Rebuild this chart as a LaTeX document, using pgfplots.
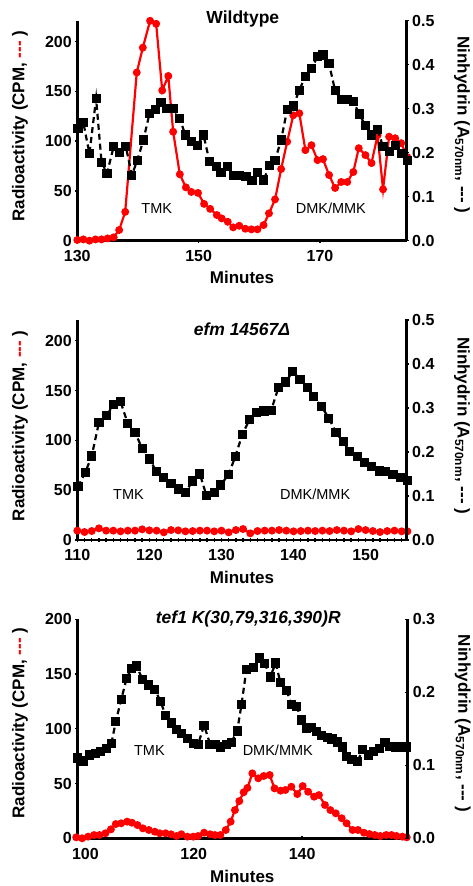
\documentclass[border=0pt]{standalone}
\usepackage{pgfplots}
\pgfplotsset{compat=1.18}
\usepackage{fontspec}
\setmainfont{Liberation Sans}
\newcommand{\tlf}{\fontsize{16}{18}\selectfont\bfseries}
\newcommand{\labf}{\fontsize{17}{20}\selectfont\bfseries}
\newcommand{\titf}{\fontsize{17.5}{20}\selectfont\bfseries}
\newcommand{\annf}{\fontsize{14.5}{17}\selectfont}
\pgfplotsset{
  common/.style={scale only axis, width=329.4pt, height=220pt, clip=false,
    tick align=outside, major tick length=4pt, minor tick length=3.5pt,
    every tick/.style={black, line width=1.4pt},
    tick label style={font=\tlf},
    /pgf/number format/assume math mode=true,
  },
  noarrows/.style={
    every outer x axis line/.append style={-},
    every outer y axis line/.append style={-},
    axis line style={-, line width=2.6pt},
  },
  leftax/.style={common, axis x line=bottom, axis y line=left, noarrows,
    ytick={0,50,100,150,200}, ymin=0,
    xticklabel style={yshift=-4pt},
    ylabel={Radioactivity (CPM, \textcolor{red}{-{}-{}-} )},
    ylabel style={font=\labf, anchor=center},
    xlabel={Minutes}, xlabel style={font=\labf, anchor=base, at={(axis description cs:0.5,0)}},
    title style={font=\titf, anchor=base},
  },
  rightax/.style={common, axis x line=none, axis y line=right, noarrows, ymin=0,
    yticklabel style={/pgf/number format/fixed, /pgf/number format/fixed zerofill, /pgf/number format/precision=1},
    ylabel={Ninhydrin (A\textsubscript{570nm}, -{}-{}- )},
    ylabel style={font=\labf, anchor=center, rotate=180},
  },
  redline/.style={red, line width=2.2pt, mark=*, mark size=2.8pt, mark options={solid}},
  blackline/.style={black, line width=2.2pt, dash pattern=on 6pt off 4pt, mark=square*, mark size=3.5pt, mark options={solid}},
}
\begin{document}
\begin{tikzpicture}[x=1pt,y=1pt]
\useasboundingbox (0,0) rectangle (472,886);
% ================= Panel 1 =================
\begin{axis}[leftax, at={(77.3pt,645.3pt)}, anchor=south west,
  xmin=130, xmax=184.3, ymax=221.1,
  xtick={130,150,170}, minor xtick={132,134,...,184},
  title={Wildtype}, title style={at={(axis description cs:0.5,1)}, yshift=-9.3pt, xshift=0.8pt},
  xlabel style={yshift=-42.6pt},
  ylabel style={at={(axis description cs:-0.174,0.521)}},
]
\addplot[redline] coordinates {
(130,0.7)(131,1.3)(132,0)(133,1.3)(134,1.3)(135,2.3)(136,3.4)(136.9,10.7)(137.9,29)
(139.8,169)(140.8,194)(142,221)(143,218)(144,151)(145,165.5)(145.8,109.5)(146.9,66.7)
(147.9,53.6)(148.8,49)(149.9,48)(150.9,37)(151.9,32)(153,25.8)(153.8,22.4)(154.8,19)
(155.7,13.4)(156.7,15)(157.7,12)(158.7,11.4)(159.7,11.4)(160.7,15.7)(161.6,27.5)
(162.6,41.5)(163.6,72)(164.6,99.5)(165.6,126)(166.6,128)(167.6,91)(168.6,96)(169.6,81)
(170.5,82)(171.5,66)(172.5,53)(173.5,59)(174.5,59)(175.5,69)(176.4,93)(177.5,86)
(178.5,78)(179.5,106)(180.4,51.6)(181.4,104.5)(182.4,103)(183.4,98)(184.4,84)
};
\node[font=\annf, anchor=base] at (axis cs:143.1,27.5) {TMK};
\node[font=\annf, anchor=base] at (axis cs:171.8,27.5) {DMK/MMK};
\end{axis}
\begin{axis}[rightax, at={(77.3pt,645.3pt)}, anchor=south west,
  xmin=130, xmax=184.3, ymax=0.5, ytick={0,0.1,...,0.5},
  ylabel style={at={(axis description cs:1.168,0.526)}},
]
\addplot[blackline] coordinates {
(130.1,0.255)(131.0,0.268)(132.0,0.198)(133.1,0.323)(134.0,0.178)(134.9,0.153)
(136.0,0.214)(137.0,0.200)(138.0,0.214)(139.0,0.149)(139.9,0.183)(140.9,0.229)
(141.9,0.289)(142.9,0.298)(143.8,0.314)(144.8,0.301)(145.8,0.301)(146.9,0.278)
(147.8,0.240)(148.8,0.225)(149.8,0.217)(150.8,0.240)(151.8,0.180)(152.9,0.168)
(153.7,0.155)(154.8,0.168)(155.8,0.149)(156.8,0.149)(157.8,0.145)(158.8,0.136)
(159.7,0.155)(160.7,0.138)(161.7,0.170)(162.6,0.183)(163.6,0.229)(164.6,0.298)
(165.6,0.306)(166.6,0.342)(167.6,0.374)(168.6,0.392)(169.6,0.418)(170.5,0.422)
(171.5,0.402)(172.5,0.341)(173.5,0.320)(174.5,0.320)(175.5,0.316)(176.5,0.288)
(177.5,0.261)(178.5,0.240)(179.5,0.252)(180.4,0.214)(181.4,0.202)(182.4,0.217)
(183.4,0.198)(184.4,0.183)
};
\end{axis}
% ================= Panel 2 =================
\begin{axis}[leftax, at={(77.3pt,346pt)}, anchor=south west,
  xmin=110, xmax=155.7, ymax=220.8,
  xtick={110,120,...,150}, minor xtick={111,...,155},
  title={\itshape efm 14567Δ}, title style={at={(axis description cs:0.5,1)}, yshift=-22pt},
  xlabel style={yshift=-43.3pt},
  ylabel style={at={(axis description cs:-0.174,0.519)}},
]
\addplot[redline] coordinates {
(110,9.4)(111,8)(112,9)(113,11.7)(114,9.4)(115,9.4)(116,8.7)(117,9.4)(118,9.4)(119,10.7)
(120,9.7)(121,9.4)(122,7.7)(123,10)(124,9.7)(125,8.7)(126,9)(127,9.4)(128,9.4)(129,8.7)
(130,9.4)(131,7.7)(132,10)(133,11)(134,6.7)(135,9)(136,9.4)(137,9.4)(138,10)(139,9.4)
(140,8.7)(141,9)(142,9.4)(143,9)(144,9.4)(145,9)(146,10)(147,9.4)(148,8.7)(149,11)
(150,10)(151,9)(152,8)(153,9)(154,9.4)(155,8.7)(155.8,8.7)
};
\node[font=\annf, anchor=base] at (axis cs:117.1,40.8) {TMK};
\node[font=\annf, anchor=base] at (axis cs:143.0,40.8) {DMK/MMK};
\end{axis}
\begin{axis}[rightax, at={(77.3pt,346pt)}, anchor=south west,
  xmin=110, xmax=155.7, ymax=0.5, ytick={0,0.1,...,0.5},
  ylabel style={at={(axis description cs:1.168,0.52)}},
]
\addplot[blackline] coordinates {
(110.1,0.121)(111.1,0.153)(112.0,0.191)(113.0,0.267)(114.1,0.283)(115.0,0.308)
(116.0,0.314)(117.0,0.265)(118.0,0.245)(119.0,0.208)(120.0,0.184)(121.0,0.155)
(122.0,0.142)(123.0,0.129)(124.0,0.116)(125.0,0.108)(126.0,0.134)(127.0,0.150)
(127.9,0.102)(129.0,0.108)(129.9,0.125)(131.0,0.149)(131.9,0.189)(132.9,0.240)
(133.9,0.274)(134.9,0.290)(135.9,0.293)(136.9,0.295)(137.9,0.346)(138.9,0.359)
(139.9,0.383)(140.9,0.365)(141.9,0.346)(142.8,0.326)(143.9,0.303)(144.9,0.277)
(145.9,0.244)(146.9,0.223)(147.8,0.201)(148.9,0.189)(149.8,0.177)(150.8,0.167)
(151.9,0.157)(152.8,0.155)(153.8,0.148)(154.8,0.142)(155.8,0.136)
};
\end{axis}
% ================= Panel 3 =================
\begin{axis}[leftax, at={(77.3pt,47.7pt)}, anchor=south west, height=219pt, width=330pt,
  xmin=98.5, xmax=159.4, ymax=200,
  xtick={100,120,140}, minor xtick={102,104,...,158},
  title={\itshape tef1 K(30,79,316,390)R}, title style={at={(axis description cs:0.5,1)}, yshift=-10pt, xshift=6pt},
  xlabel style={yshift=-44.4pt},
  ylabel style={at={(axis description cs:-0.174,0.525)}},
]
\addplot[redline] coordinates {
(98.3,0.9)(99.4,0)(100.5,1.5)(101.6,3)(102.6,3)(103.7,4.6)(104.7,8.2)(105.6,13)
(106.6,13.7)(107.7,15.2)(108.6,14.2)(109.6,12.1)(110.6,9.1)(111.7,7.6)(112.8,6)
(113.7,4.6)(114.8,4.6)(115.8,3.7)(116.8,2.1)(117.7,3.7)(118.8,1.5)(119.9,1.5)
(120.8,2.1)(121.9,5.1)(123.0,3.7)(123.9,3)(124.9,3)(125.9,7.6)(126.8,15.2)
(127.6,25.8)(128.4,34)(129.2,42)(129.9,46)(130.8,59.3)(131.9,54.8)(132.9,56.9)
(134.0,57.8)(134.9,45.6)(136.0,43.5)(136.9,44.1)(138.0,47.1)(139.1,40.4)(140.1,47.7)
(141.1,42.5)(142.2,38)(143.1,39.5)(144.2,30.4)(145.2,25.8)(146.2,22.8)(147.3,18.3)
(148.2,13.7)(149.3,7.6)(150.3,7.6)(151.4,5.1)(152.4,3.9)(153.4,3)(154.4,2.1)
(155.5,3)(156.5,3)(157.4,2.1)(158.5,1.5)(159.3,0.9)
};
\node[font=\annf, anchor=base] at (axis cs:111.8,76) {TMK};
\node[font=\annf, anchor=base] at (axis cs:135.5,76) {DMK/MMK};
\end{axis}
\begin{axis}[rightax, at={(77.3pt,47.7pt)}, anchor=south west, height=219pt, width=330pt,
  xmin=98.5, xmax=159.4, ymax=0.3, ytick={0,0.1,0.2,0.3},
  ylabel style={at={(axis description cs:1.168,0.525)}},
]
\addplot[blackline] coordinates {
(98.6,0.110)(99.6,0.106)(100.8,0.114)(101.8,0.116)(102.8,0.119)(103.9,0.123)
(104.8,0.130)(105.6,0.160)(106.6,0.190)(107.6,0.219)(108.5,0.233)(109.4,0.236)
(110.6,0.217)(111.7,0.210)(112.8,0.204)(113.9,0.187)(114.8,0.168)(115.9,0.158)
(116.8,0.149)(117.8,0.144)(118.9,0.137)(119.9,0.130)(120.8,0.129)(121.9,0.155)
(123.0,0.129)(123.9,0.128)(124.9,0.125)(126.0,0.129)(126.9,0.131)(128.0,0.147)
(128.8,0.183)(129.7,0.231)(131.0,0.234)(132.1,0.247)(133.1,0.239)(134.1,0.221)
(135.1,0.240)(136.0,0.213)(137.1,0.203)(138.0,0.183)(139.0,0.180)(139.9,0.162)
(140.8,0.151)(141.7,0.152)(142.7,0.146)(143.6,0.141)(144.6,0.138)(145.5,0.136)
(146.5,0.132)(147.4,0.125)(148.2,0.112)(149.2,0.108)(150.2,0.105)(151.2,0.122)
(152.2,0.114)(153.1,0.119)(154.2,0.123)(155.3,0.131)(156.2,0.126)(157.3,0.125)
(158.2,0.125)(159.3,0.125)
};
\end{axis}
\end{tikzpicture}
\end{document}
